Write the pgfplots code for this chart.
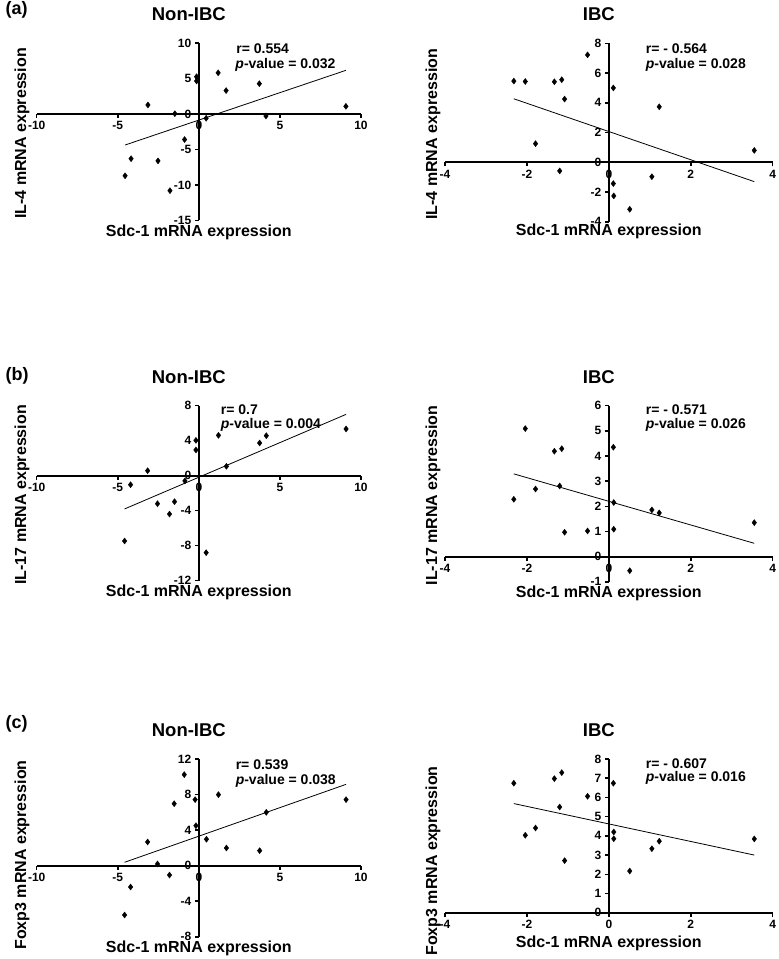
\documentclass[border=0pt]{standalone}
\usepackage{fontspec}
\setmainfont{Liberation Sans}
\usepackage{pgfplots}
\pgfplotsset{compat=1.18}
\pgfplotsset{
 panel/.style={
  scale only axis, axis lines=middle, axis line style={-, line width=2pt},
  enlargelimits=false, tick align=outside, major tick length=4pt, clip=false,
  tick style={line width=1.5pt, black},
  hide obscured x ticks=false, hide obscured y ticks=false,
  tick label style={font=\bfseries\fontsize{12}{13}\selectfont},
  /pgf/number format/assume math mode=true,
  xlabel={Sdc-1 mRNA expression},
  every axis x label/.style={at={(axis description cs:0.5,0)}, anchor=center, yshift=-12pt, font=\bfseries\fontsize{16}{18}\selectfont},
  every axis y label/.style={at={(axis description cs:-0.045,0.49)}, rotate=90, anchor=center, font=\bfseries\fontsize{16}{18}\selectfont},
  every axis title/.style={at={(axis description cs:0.5,1)}, anchor=center, yshift=29pt, xshift=-10pt, font=\bfseries\fontsize{18.5}{20}\selectfont},
 },
 leftp/.style={panel, width=324.3pt, xmin=-10, xmax=10, xtick={-10,-5,0,5,10}, title={Non-IBC}},
 rightp/.style={panel, width=327.7pt, xmin=-4, xmax=4, xtick={-4,-2,0,2,4}, title={IBC},
  every axis y label/.append style={at={(axis description cs:-0.037,0.49)}}},
 pts/.style={only marks, mark=diamond*, mark size=3pt, black},
 trend/.style={black, line width=0.8pt, no marks},
}
\newcommand{\rtxt}[2]{\node[anchor=west, font=\bfseries\fontsize{14}{16}\selectfont] at (axis description cs:#1) {#2};}
\begin{document}
\begin{tikzpicture}
\path[use as bounding box] (0,0) rectangle (779pt,959pt);
% (a) Non-IBC
\begin{axis}[leftp, at={(36.7pt,738.5pt)}, anchor=south west, height=177.5pt,
  ymin=-15, ymax=10, ytick={-15,-10,-5,0,5,10}, ylabel={IL-4 mRNA expression}]
\addplot[pts] coordinates {(-0.14,5.25) (-0.14,4.65) (1.19,5.8) (1.68,3.3) (3.73,4.27) (9.07,1.08) (-3.14,1.27) (-1.48,0.05) (0.45,-0.6) (4.14,-0.28) (-0.88,-3.6) (-4.18,-6.3) (-2.52,-6.6) (-4.55,-8.7) (-1.78,-10.8)};
\addplot[trend] coordinates {(-4.55,-4.37) (9.07,6.15)};
\rtxt{0.605,0.966}{r= 0.554}
\rtxt{0.602,0.876}{\textit{p}-value = 0.032}
\node[anchor=west, font=\bfseries\fontsize{18}{20}\selectfont] at (axis description cs:-0.107,1.186) {(a)};
\end{axis}
% (a) IBC
\begin{axis}[rightp, at={(445pt,737.2pt)}, anchor=south west, height=178.5pt,
  ymin=-4, ymax=8, ytick={-4,-2,0,2,4,6,8}, ylabel={IL-4 mRNA expression},
  every axis x label/.append style={yshift=2pt}]
\addplot[pts] coordinates {(-2.32,5.46) (-2.04,5.43) (-1.33,5.41) (-1.15,5.55) (-1.08,4.25) (-0.52,7.22) (0.11,5.0) (1.23,3.73) (3.55,0.8) (-1.79,1.25) (-1.2,-0.58) (1.05,-0.97) (0.11,-1.43) (0.12,-2.26) (0.51,-3.16)};
\addplot[trend] coordinates {(-2.32,4.27) (3.55,-1.30)};
\rtxt{0.602,0.968}{r= - 0.564}
\rtxt{0.602,0.878}{\textit{p}-value = 0.028}
\end{axis}
% (b) Non-IBC
\begin{axis}[leftp, at={(36.7pt,378.3pt)}, anchor=south west, height=175pt,
  ymin=-12, ymax=8, ytick={-12,-8,-4,0,4,8}, ylabel={IL-17 mRNA expression}]
\addplot[pts] coordinates {(-0.18,4.04) (-0.18,2.94) (1.21,4.61) (3.75,3.74) (4.16,4.57) (9.08,5.34) (1.70,1.07) (-3.16,0.57) (-0.86,-0.6) (-4.21,-1.03) (-2.55,-3.2) (-1.50,-2.97) (-1.81,-4.38) (-4.58,-7.46) (0.45,-8.8)};
\addplot[trend] coordinates {(-4.58,-3.8) (9.08,7.01)};
\rtxt{0.557,0.975}{r= 0.7}
\rtxt{0.557,0.89}{\textit{p}-value = 0.004}
\node[anchor=west, font=\bfseries\fontsize{18}{20}\selectfont] at (axis description cs:-0.107,1.17) {(b)};
\end{axis}
% (b) IBC
\begin{axis}[rightp, at={(445pt,377.2pt)}, anchor=south west, height=176.1pt,
  ymin=-1, ymax=6, ytick={-1,0,1,2,3,4,5,6}, ylabel={IL-17 mRNA expression}]
\addplot[pts] coordinates {(-2.04,5.09) (-1.33,4.19) (-1.15,4.29) (0.11,4.35) (-1.79,2.69) (-1.2,2.81) (-2.32,2.28) (0.12,2.15) (1.05,1.86) (1.23,1.74) (3.55,1.35) (-1.08,0.97) (-0.52,1.02) (0.12,1.09) (0.51,-0.56)};
\addplot[trend] coordinates {(-2.32,3.29) (3.55,0.53)};
\rtxt{0.602,0.975}{r= - 0.571}
\rtxt{0.602,0.89}{\textit{p}-value = 0.026}
\end{axis}
% (c) Non-IBC
\begin{axis}[leftp, at={(36.7pt,22.2pt)}, anchor=south west, height=177.8pt,
  ymin=-8, ymax=12, ytick={-8,-4,0,4,8,12}, ylabel={Foxp3 mRNA expression},
  every axis y label/.append style={at={(axis description cs:-0.045,0.46)}}]
\addplot[pts] coordinates {(-0.90,10.24) (1.21,7.99) (-1.52,6.97) (-0.23,7.43) (9.08,7.43) (4.16,6.0) (-0.18,4.5) (0.47,2.97) (-3.16,2.67) (1.70,1.99) (3.75,1.69) (-2.55,0.19) (-1.81,-1.05) (-4.21,-2.40) (-4.58,-5.55)};
\addplot[trend] coordinates {(-4.58,0.38) (9.08,9.15)};
\rtxt{0.603,0.970}{r= 0.539}
\rtxt{0.603,0.878}{\textit{p}-value = 0.038}
\node[anchor=west, font=\bfseries\fontsize{18}{20}\selectfont] at (axis description cs:-0.107,1.2) {(c)};
\end{axis}
% (c) IBC
\begin{axis}[rightp, at={(445pt,46.3pt)}, anchor=south west, height=153.7pt,
  ymin=0, ymax=8, ytick={0,1,2,3,4,5,6,7,8}, ylabel={Foxp3 mRNA expression},
  every axis y label/.append style={at={(axis description cs:-0.037,0.336)}},
  every axis x label/.append style={yshift=-19pt}]
\addplot[pts] coordinates {(-2.32,6.74) (-1.33,6.98) (-1.15,7.29) (0.11,6.74) (-0.52,6.06) (-1.2,5.5) (-1.79,4.41) (-2.04,4.03) (0.12,4.2) (0.12,3.85) (1.23,3.72) (1.05,3.33) (3.55,3.84) (-1.08,2.71) (0.51,2.17)};
\addplot[trend] coordinates {(-2.32,5.68) (3.55,3.0)};
\rtxt{0.602,0.970}{r= - 0.607}
\rtxt{0.602,0.878}{\textit{p}-value = 0.016}
\end{axis}
\end{tikzpicture}
\end{document}
